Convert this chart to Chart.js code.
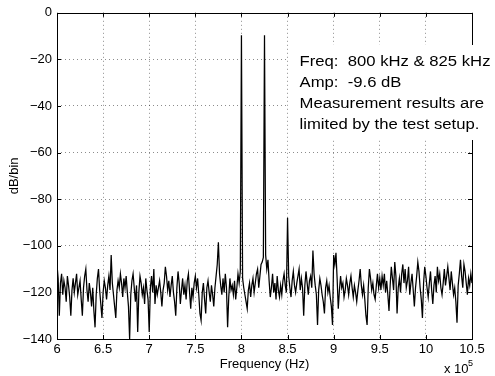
<!DOCTYPE html>
<html>
<head>
<meta charset="utf-8">
<script src="https://cdn.jsdelivr.net/npm/chart.js@4.4.1/dist/chart.umd.min.js"></script>
<style>
  html, body { margin: 0; padding: 0; background: #fff; }
  #spectrum { display: block; }
</style>
</head>
<body>
<canvas id="spectrum" width="495" height="376"></canvas>
<script>
// Spectrum: one dB/bin reading every 1.25 kHz, starting at 600 kHz
var startHz = 600000;
var stepHz = 1250;
var levelsDb = [
  -108, -114, -130, -116, -112, -121, -115, -118, -124, -113, -117, -122, -130, -119, -114, -120, -116, -112, -121, -118,
  -115, -123, -130, -118, -113, -110, -119, -124, -116, -120, -126, -118, -128, -135, -121, -114, -110, -119, -125, -131,
  -120, -115, -118, -123, -117, -113, -119, -104, -116, -121, -126, -131, -119, -115, -118, -112, -116, -122, -114, -118,
  -113, -120, -126, -140, -121, -115, -112, -118, -124, -117, -137, -120, -113, -116, -121, -118, -125, -114, -119, -123,
  -137, -118, -113, -120, -110, -125, -117, -121, -118, -115, -120, -126, -119, -116, -109, -113, -119, -115, -122, -117,
  -113, -120, -124, -130, -118, -111, -116, -125, -119, -114, -121, -117, -123, -115, -112, -120, -127, -118, -122, -116,
  -113, -118, -114, -121, -129, -132, -120, -116, -123, -129, -118, -115, -120, -124, -117, -121, -126, -118, -113, -108,
  -98.5, -112, -117, -121, -114, -120, -112, -118, -135, -122, -114, -119, -117, -121, -115, -123, -118, -112, -116, -111,
  -9.6, -114, -118, -121, -124, -127, -119, -116, -122, -117, -114, -120, -116, -112, -110, -118, -113, -108, -107, -105,
  -9.6, -104, -110, -106, -115, -122, -118, -112, -120, -116, -123, -113, -119, -122, -117, -121, -115, -112, -117, -120,
  -88, -113, -118, -122, -115, -111, -117, -120, -116, -113, -110, -119, -114, -118, -130, -117, -111, -116, -121, -115,
  -113, -118, -102, -112, -117, -121, -134, -119, -114, -117, -121, -124, -129, -118, -115, -120, -117, -122, -126, -134,
  -104, -108, -103, -114, -127, -119, -113, -118, -116, -122, -119, -114, -117, -121, -116, -113, -118, -122, -117, -120,
  -124, -119, -115, -110, -117, -121, -117, -123, -130, -134, -118, -110, -114, -119, -116, -121, -123, -117, -112, -118,
  -114, -119, -113, -117, -112, -120, -115, -121, -128, -117, -109, -114, -119, -107, -113, -129, -118, -114, -120, -112,
  -108, -116, -110, -118, -115, -109, -121, -116, -112, -119, -126, -118, -113, -107, -111, -118, -123, -131, -116, -109,
  -113, -118, -122, -116, -111, -119, -125, -117, -113, -120, -109, -115, -112, -118, -121, -116, -110, -117, -113, -109,
  -114, -119, -111, -116, -121, -118, -124, -133, -117, -112, -106, -113, -118, -108, -111, -116, -121, -114, -117, -112, -116
];

var xTicks = [6, 6.5, 7, 7.5, 8, 8.5, 9, 9.5, 10, 10.5];   // x 10^5 Hz
var yTicks = [0, -20, -40, -60, -80, -100, -120, -140];
var noteLines = [
  'Freq:  800 kHz & 825 kHz',
  'Amp:  -9.6 dB',
  'Measurement results are',
  'limited by the test setup.'
];

var points = levelsDb.map(function (v, i) {
  return { x: startHz + i * stepHz, y: v };
});

var FONT = '"Liberation Sans", Arial, Helvetica, sans-serif';

function gridColor(ctx) {
  var n = ctx.scale.ticks.length;
  if (ctx.index === 0 || ctx.index === n - 1) return 'rgba(0,0,0,0)';
  return 'rgba(0,0,0,0.45)';
}

// axes box, inward tick marks, exponent and the note box (MATLAB look)
var matlabFrame = {
  id: 'matlabFrame',
  afterDraw: function (chart) {
    var a = chart.chartArea, ctx = chart.ctx;
    var xs = chart.scales.x, ys = chart.scales.y;
    ctx.save();
    ctx.strokeStyle = '#000';
    ctx.lineWidth = 1;
    ctx.beginPath();
    xs.ticks.forEach(function (t) {
      var px = Math.round(xs.getPixelForValue(t.value)) + 0.5;
      ctx.moveTo(px, a.bottom); ctx.lineTo(px, a.bottom - 4);
      ctx.moveTo(px, a.top); ctx.lineTo(px, a.top + 4);
    });
    ys.ticks.forEach(function (t) {
      var py = Math.round(ys.getPixelForValue(t.value)) + 0.5;
      ctx.moveTo(a.left, py); ctx.lineTo(a.left + 4, py);
      ctx.moveTo(a.right, py); ctx.lineTo(a.right - 4, py);
    });
    ctx.stroke();
    ctx.strokeRect(Math.round(a.left) + 0.5, Math.round(a.top) + 0.5,
      Math.round(a.right - a.left), Math.round(a.bottom - a.top));

    // exponent under the x axis
    ctx.fillStyle = '#000';
    ctx.font = '13px ' + FONT;
    ctx.textBaseline = 'alphabetic';
    ctx.textAlign = 'left';
    ctx.fillText('x 10', 444, 373);
    ctx.font = '9px ' + FONT;
    ctx.fillText('5', 468, 366);

    // note with white background
    ctx.fillStyle = '#fff';
    ctx.fillRect(289, 45, 206, 95);
    ctx.fillStyle = '#000';
    ctx.font = '14px ' + FONT;
    var sx = 191 / ctx.measureText(noteLines[0]).width;
    noteLines.forEach(function (line, i) {
      ctx.save();
      ctx.translate(299.5, 66 + i * 21);
      ctx.scale(sx, 1);
      ctx.fillText(line, 0, 0);
      ctx.restore();
    });
    ctx.restore();
  }
};

var spectrumChart = new Chart(document.getElementById('spectrum'), {
  type: 'line',
  data: {
    datasets: [{
      data: points,
      borderColor: '#000',
      borderWidth: 1.25,
      pointRadius: 0,
      tension: 0,
      fill: false
    }]
  },
  options: {
    responsive: false,
    devicePixelRatio: 1,
    animation: false,
    parsing: false,
    layout: { padding: { top: 11, right: 23, left: 0, bottom: 0 } },
    plugins: {
      legend: { display: false },
      tooltip: { enabled: false }
    },
    scales: {
      x: {
        type: 'linear',
        min: 600000,
        max: 1050000,
        afterBuildTicks: function (s) {
          s.ticks = xTicks.map(function (v) { return { value: v * 1e5 }; });
        },
        afterFit: function (s) { s.height = 37; },
        border: { display: false, dash: [1, 3] },
        grid: { color: gridColor, lineWidth: 1, drawTicks: false },
        ticks: {
          padding: 3,
          color: '#000',
          font: { family: FONT, size: 13 },
          maxRotation: 0,
          autoSkip: false,
          callback: function (v) { return String(Math.round(v / 1e4) / 10); }
        },
        title: {
          display: true,
          text: 'Frequency (Hz)',
          color: '#000',
          font: { family: FONT, size: 13 },
          padding: { top: 0, bottom: 4 }
        }
      },
      y: {
        min: -140,
        max: 0,
        afterBuildTicks: function (s) {
          s.ticks = yTicks.map(function (v) { return { value: v }; });
        },
        afterFit: function (s) { s.width = 57; },
        border: { display: false, dash: [1, 3] },
        grid: { color: gridColor, lineWidth: 1, drawTicks: false },
        ticks: {
          padding: 5,
          color: '#000',
          font: { family: FONT, size: 13 },
          autoSkip: false,
          callback: function (v) { return v < 0 ? '\u2212' + Math.abs(v) : String(v); }
        },
        title: {
          display: true,
          text: 'dB/bin',
          color: '#000',
          font: { family: FONT, size: 13 },
          padding: { top: 7, bottom: 0 }
        }
      }
    }
  },
  plugins: [matlabFrame]
});
</script>
</body>
</html>
